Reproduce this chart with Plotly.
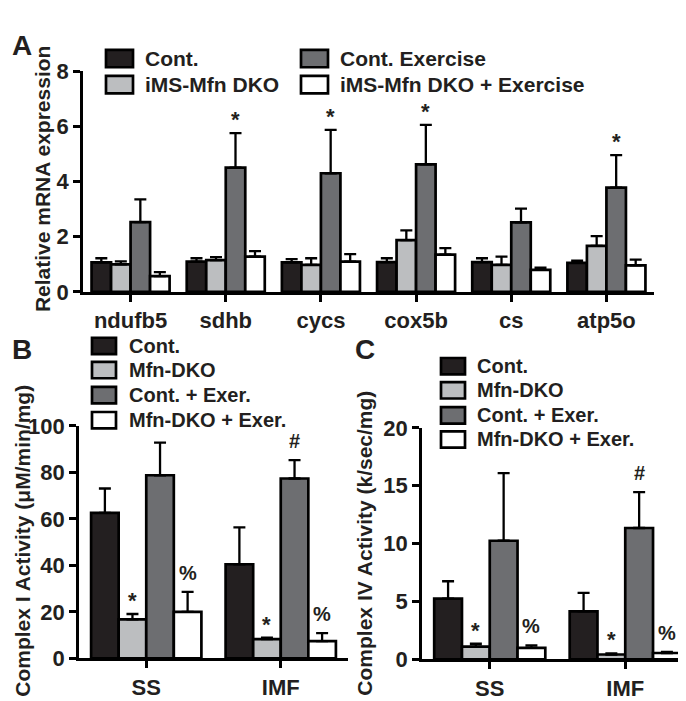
import plotly.graph_objects as go

# ---------------- data ----------------
series_A = ["Cont.", "iMS-Mfn DKO", "Cont. Exercise", "iMS-Mfn DKO + Exercise"]
categories_A = ["ndufb5", "sdhb", "cycs", "cox5b", "cs", "atp5o"]
cont_A = [1.07, 1.10, 1.07, 1.08, 1.08, 1.05]
cont_A_err = [0.15, 0.12, 0.12, 0.14, 0.14, 0.08]
dko_A = [1.00, 1.15, 0.98, 1.88, 0.98, 1.67]
dko_A_err = [0.11, 0.11, 0.24, 0.35, 0.30, 0.35]
ex_A = [2.53, 4.50, 4.30, 4.62, 2.52, 3.78]
ex_A_err = [0.82, 1.25, 1.57, 1.43, 0.50, 1.18]
dkoex_A = [0.57, 1.28, 1.10, 1.35, 0.80, 0.96]
dkoex_A_err = [0.15, 0.20, 0.27, 0.24, 0.08, 0.21]
sig_A_ex = ["", "*", "*", "*", "", "*"]

series_BC = ["Cont.", "Mfn-DKO", "Cont. + Exer.", "Mfn-DKO + Exer."]
categories_BC = ["SS", "IMF"]
cont_B = [62.6, 40.5]
cont_B_err = [10.5, 15.9]
dko_B = [16.8, 8.3]
dko_B_err = [2.3, 0.6]
ex_B = [78.8, 77.4]
ex_B_err = [14.0, 7.9]
dkoex_B = [20.0, 7.4]
dkoex_B_err = [8.6, 3.5]
sig_B_dko = ["*", "*"]
sig_B_ex = ["", "#"]
sig_B_dkoex = ["%", "%"]

cont_C = [5.25, 4.15]
cont_C_err = [1.5, 1.6]
dko_C = [1.1, 0.42]
dko_C_err = [0.25, 0.1]
ex_C = [10.25, 11.35]
ex_C_err = [5.85, 3.1]
dkoex_C = [1.0, 0.55]
dkoex_C_err = [0.2, 0.1]
sig_C_dko = ["*", "*"]
sig_C_ex = ["", "#"]
sig_C_dkoex = ["%", "%"]

colors = ["#231f20", "#bcbec0", "#6d6e71", "#ffffff"]

# ---------------- layout helpers ----------------
W, H = 686, 701
FONT = "Liberation Sans, Arial, Helvetica, sans-serif"
TXT = "#231f20"
BARGAP = 0.18


def px(x):
    return x / W


def py(y):
    return 1 - y / H


def f(size):
    return dict(family=FONT, size=size, color=TXT, weight="bold")


fig = go.Figure()


def add_panel(xa, ya, cats, vals, errs, names):
    for i, (v, e, n) in enumerate(zip(vals, errs, names)):
        fig.add_trace(go.Bar(
            x=cats, y=v, name=n, xaxis=xa, yaxis=ya, showlegend=False,
            marker=dict(color=colors[i], line=dict(color="black", width=2.7)),
            error_y=dict(type="data", array=e, arrayminus=[0] * len(e),
                         symmetric=False, color="black", thickness=2.3, width=6),
        ))


add_panel("x", "y", categories_A, [cont_A, dko_A, ex_A, dkoex_A],
          [cont_A_err, dko_A_err, ex_A_err, dkoex_A_err], series_A)
add_panel("x2", "y2", categories_BC, [cont_B, dko_B, ex_B, dkoex_B],
          [cont_B_err, dko_B_err, ex_B_err, dkoex_B_err], series_BC)
add_panel("x3", "y3", categories_BC, [cont_C, dko_C, ex_C, dkoex_C],
          [cont_C_err, dko_C_err, ex_C_err, dkoex_C_err], series_BC)


def ax(size, **kw):
    d = dict(showline=True, linecolor="black", linewidth=2.7,
             ticks="outside", ticklen=7, tickwidth=2.7, tickcolor="black",
             showgrid=False, zeroline=False, tickfont=f(size))
    d.update(kw)
    return d


fig.update_layout(
    width=W, height=H, margin=dict(l=0, r=0, t=0, b=0),
    paper_bgcolor="white", plot_bgcolor="white",
    barmode="group", bargap=BARGAP, bargroupgap=0,
    font=f(20),
    xaxis=ax(22, domain=[px(75), px(646)], anchor="y", type="category"),
    yaxis=ax(22, domain=[py(282), py(53)], anchor="x", range=[0, 8], dtick=2),
    xaxis2=ax(22, domain=[px(71), px(340)], anchor="y2", type="category"),
    yaxis2=ax(22, domain=[py(662), py(421)], anchor="x2", range=[0, 100], dtick=20),
    xaxis3=ax(22, domain=[px(414), px(685)], anchor="y3", type="category"),
    yaxis3=ax(22, domain=[py(663), py(423)], anchor="x3", range=[0, 20], dtick=5),
)

annotations = []
shapes = []


def bar_x(j, i):
    w = (1 - BARGAP) / 4
    return j - (1 - BARGAP) / 2 + w * (i + 0.5)


def add_sig(xa, ya, sigs, vals, errs, i):
    for j, s in enumerate(sigs):
        if not s:
            continue
        shift = -1 if s == "*" else 6
        annotations.append(dict(
            x=bar_x(j, i), y=vals[j] + errs[j], xref=xa, yref=ya,
            text=s, showarrow=False, xanchor="center", yanchor="bottom",
            yshift=shift, font=f(22 if s == "*" else 20),
        ))


add_sig("x", "y", sig_A_ex, ex_A, ex_A_err, 2)
add_sig("x2", "y2", sig_B_dko, dko_B, dko_B_err, 1)
add_sig("x2", "y2", sig_B_ex, ex_B, ex_B_err, 2)
add_sig("x2", "y2", sig_B_dkoex, dkoex_B, dkoex_B_err, 3)
add_sig("x3", "y3", sig_C_dko, dko_C, dko_C_err, 1)
add_sig("x3", "y3", sig_C_ex, ex_C, ex_C_err, 2)
add_sig("x3", "y3", sig_C_dkoex, dkoex_C, dkoex_C_err, 3)


def legend_item(x0, x1, yc, hgt, color, label, tx, size):
    shapes.append(dict(type="rect", xref="paper", yref="paper",
                       x0=px(x0), x1=px(x1), y0=py(yc + hgt / 2), y1=py(yc - hgt / 2),
                       fillcolor=color, line=dict(color="black", width=2.7)))
    annotations.append(dict(x=px(tx), y=py(yc), xref="paper", yref="paper",
                            text=label, showarrow=False, xanchor="left", yanchor="middle",
                            font=f(size)))


# legend A (2 columns)
legend_item(98, 125, 40, 18, colors[0], series_A[0], 135, 21)
legend_item(98, 125, 67, 18, colors[1], series_A[1], 135, 21)
legend_item(293, 320, 40, 18, colors[2], series_A[2], 330, 21)
legend_item(293, 320, 67, 18, colors[3], series_A[3], 330, 21)
# legend B
for k, yc in enumerate([338, 363, 389, 415]):
    legend_item(84, 108, yc, 17, colors[k], series_BC[k], 119, 20)
# legend C
for k, yc in enumerate([359, 384, 410, 435]):
    legend_item(433, 457, yc, 17, colors[k], series_BC[k], 467, 20)


def ytitle(xc, yc, text, size):
    annotations.append(dict(x=px(xc), y=py(yc), xref="paper", yref="paper", text=text,
                            textangle=-90, showarrow=False, xanchor="center", yanchor="middle",
                            font=f(size)))


ytitle(34, 165, "Relative mRNA expression", 21)
ytitle(15, 540, "Complex I Activity (μM/min/mg)", 21)
ytitle(357, 543, "Complex IV Activity (k/sec/mg)", 21)

# panel letters
for letter, lx, ly in [("A", 2, 8), ("B", 2, 324), ("C", 345, 324)]:
    annotations.append(dict(x=px(lx), y=py(ly), xref="paper", yref="paper", text=letter,
                            showarrow=False, xanchor="left", yanchor="top", font=f(28)))

fig.update_layout(annotations=annotations, shapes=shapes)
fig.write_html("out.html")
